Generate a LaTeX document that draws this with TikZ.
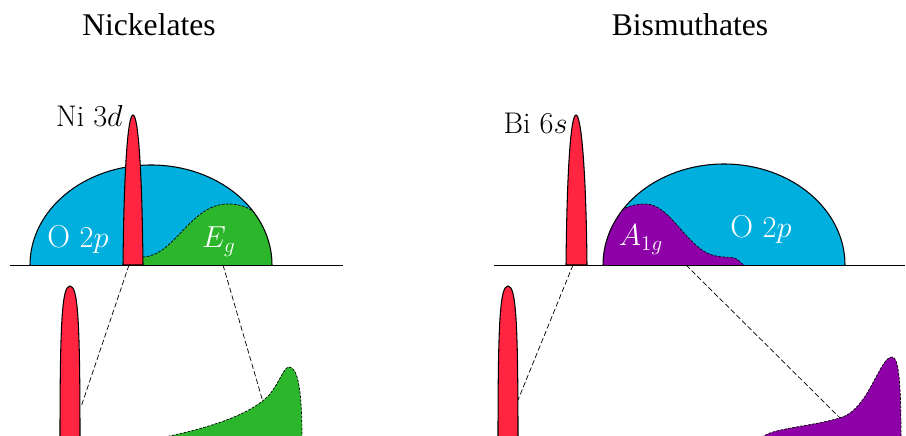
\documentclass[tikz,border=0pt]{standalone}
\usepackage{fontspec}
\newfontfamily\titlefont{Liberation Serif}
\usetikzlibrary{calc}
\definecolor{oxblue}{RGB}{0,175,222}
\definecolor{peakred}{RGB}{255,36,64}
\definecolor{egreen}{RGB}{43,182,43}
\definecolor{apurple}{RGB}{142,0,168}

\begin{document}
\begin{tikzpicture}[x=0.02cm,y=0.02cm,
  band/.style={draw=black,line width=0.6pt},
  weak/.style={draw=black,line width=0.4pt,dash pattern=on 1.5pt off 0.8pt},
  link/.style={line width=0.4pt,dash pattern=on 3pt off 1.5pt},
  lbl/.style={font=\fontsize{17}{20}\selectfont,inner sep=0pt,anchor=base},
  inlbl/.style={font=\fontsize{18}{21}\selectfont,inner sep=0pt,anchor=base},
  ttl/.style={font=\titlefont\fontsize{18}{22}\selectfont,inner sep=0pt,anchor=base}]
  \useasboundingbox (0,0) rectangle (906,436);

  % nickelates
  \node[ttl] (nickT) at (149,400) {Nickelates};
  \fill[oxblue] (30,171) arc (180:0:121 and 100) -- cycle;
  \begin{scope}
    \clip (30,171) arc (180:0:121 and 100) -- cycle;
    \fill[egreen] (143,171) -- (143,179) .. controls (175,180) and (190,232) .. (228,232)
      .. controls (250,232) and (266,222) .. (290,171) -- cycle;
    \draw[weak] (143,179) .. controls (175,180) and (190,232) .. (228,232)
      .. controls (250,232) and (266,222) .. (290,171);
  \end{scope}
  \draw[band] (30,171) arc (180:0:121 and 100);
  \filldraw[band,fill=peakred] (123,171) .. controls (124,270) and (128,321) .. (133,321)
    .. controls (138,321) and (142,270) .. (143,171) -- cycle;
  \draw (10,171) -- (343,171);
  \node[inlbl] (oxL) at (78,188) {\textcolor{white}{O $2p$}};
  \node[inlbl] (egL) at (219,188) {\textcolor{white}{$E_g$}};
  \node[lbl,anchor=base east] (niL) at (123,309) {Ni $3d$};

  \filldraw[band,fill=peakred] (60,-5) .. controls (60,115) and (62,150) .. (70,150)
    .. controls (78,150) and (80,115) .. (80,-5) -- cycle;
  \filldraw[weak,fill=egreen] (160,-2) .. controls (220,10) and (255,25) .. (270,42)
    .. controls (280,55) and (284,69) .. (289,69) .. controls (297,69) and (302,50) .. (302,-2);
  \coordinate (niA) at (129,171);
  \coordinate (niB) at (81,29);
  \coordinate (egA) at (223,171);
  \coordinate (egB) at (263,34);
  \draw[link] (niA) -- (niB);
  \draw[link] (egA) -- (egB);

  % bismuthates
  \node[ttl] (bisT) at (690,400) {Bismuthates};
  \fill[oxblue] (603,171) arc (180:0:121 and 101) -- cycle;
  \begin{scope}
    \clip (603,171) arc (180:0:121 and 101) -- cycle;
    \fill[apurple] (590,190) .. controls (610,225) and (628,232) .. (645,232)
      .. controls (668,232) and (682,198) .. (705,184) .. controls (720,176) and (733,181) .. (738,176)
      .. controls (741,173) and (742,172) .. (744,171) -- (590,171) -- cycle;
    \draw[weak] (590,190) .. controls (610,225) and (628,232) .. (645,232)
      .. controls (668,232) and (682,198) .. (705,184) .. controls (720,176) and (733,181) .. (738,176)
      .. controls (741,173) and (742,172) .. (744,171);
  \end{scope}
  \draw[band] (603,171) arc (180:0:121 and 101);
  \filldraw[band,fill=peakred] (566,171) .. controls (567,270) and (571,321) .. (576,321)
    .. controls (581,321) and (586,270) .. (587,171) -- cycle;
  \draw (494,171) -- (905,171);
  \node[inlbl] (axL) at (641,190) {\textcolor{white}{$A_{1g}$}};
  \node[inlbl] (oxR) at (761,198) {\textcolor{white}{O $2p$}};
  \node[lbl,anchor=base east] (biL) at (568,302) {Bi $6s$};

  \filldraw[band,fill=peakred] (498,-5) .. controls (498,115) and (500,150) .. (508,150)
    .. controls (516,150) and (518,115) .. (518,-5) -- cycle;
  \filldraw[weak,fill=apurple] (762,-2) .. controls (768,8) and (820,10) .. (845,20)
    .. controls (870,32) and (880,79) .. (892,79) .. controls (898,79) and (901,60) .. (901,-2);
  \coordinate (biA) at (573,171);
  \coordinate (biB) at (518,36);
  \coordinate (axA) at (686,171);
  \coordinate (axB) at (840,18);
  \draw[link] (biA) -- (biB);
  \draw[link] (axA) -- (axB);
\end{tikzpicture}
\end{document}
